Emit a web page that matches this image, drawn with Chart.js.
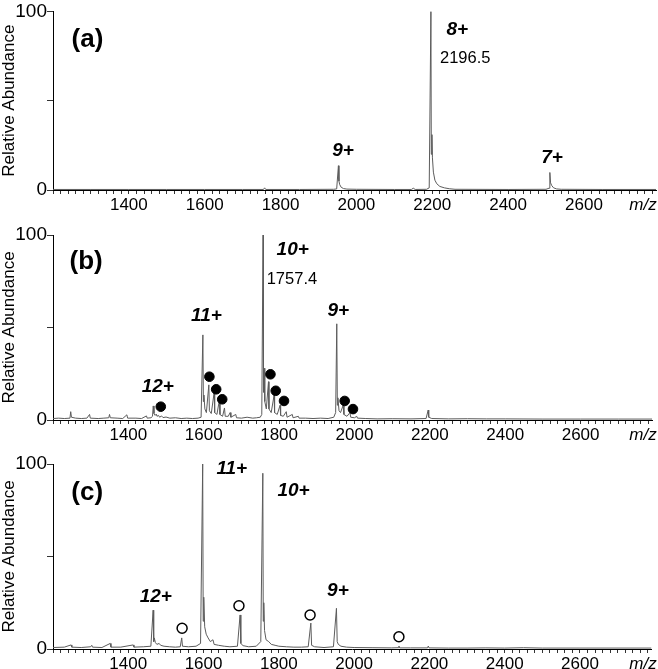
<!DOCTYPE html>
<html>
<head>
<meta charset="utf-8">
<script src="https://cdn.jsdelivr.net/npm/chart.js@4.4.1/dist/chart.umd.min.js"></script>
<style>
  html, body { margin: 0; padding: 0; background: #fff; }
  .panel { position: absolute; left: 0; width: 658px; }
</style>
</head>
<body>
<div class="panel" style="top:0px"><canvas id="chartA" width="658" height="223"></canvas></div>
<div class="panel" style="top:223px"><canvas id="chartB" width="658" height="223"></canvas></div>
<div class="panel" style="top:446px"><canvas id="chartC" width="658" height="223"></canvas></div>
<script>
'use strict';

// spectrum profiles (m/z, relative abundance %)
let mzA = [1200, 1300, 1400, 1500, 1600, 1700, 1755, 1758, 1761, 1850, 1940, 1948, 1952.6, 1954, 1956, 1960, 1966, 1975, 2000, 2100, 2145, 2150, 2155, 2185, 2192, 2196.5, 2197.5, 2199.2, 2200.5, 2203, 2207, 2212, 2220, 2232, 2245, 2260, 2400, 2500, 2508, 2510.1, 2512, 2515, 2520, 2528, 2540, 2650, 2790];
let abA = [0.3, 0.3, 0.3, 0.3, 0.3, 0.3, 0.3, 1.2, 0.3, 0.3, 0.4, 0.6, 13.6, 5, 3, 1.5, 0.8, 0.5, 0.4, 0.3, 0.3, 1, 0.3, 0.4, 1.2, 100, 20, 31, 18, 10, 5.5, 3.5, 2, 1.2, 0.7, 0.4, 0.3, 0.4, 1, 9.8, 4, 2.5, 1.2, 0.6, 0.4, 0.3, 0.3];

let mzB = [1200, 1215, 1230, 1245, 1247, 1249, 1260, 1275, 1290, 1297, 1299, 1320, 1335, 1348, 1350, 1352, 1370, 1385, 1396, 1398, 1420, 1435, 1448, 1450, 1460, 1464, 1466, 1468, 1471, 1474, 1476, 1480, 1483, 1488, 1492, 1500, 1510, 1525, 1540, 1555, 1570, 1585, 1593, 1597.7, 1599, 1600.5, 1603, 1607, 1613.5, 1615, 1620, 1627.7, 1629, 1635, 1641.7, 1643, 1650, 1655, 1657, 1665, 1670, 1672, 1685, 1687, 1700, 1715, 1730, 1740, 1750, 1754, 1757.4, 1758.6, 1760, 1762, 1766, 1771.8, 1773, 1779, 1786.8, 1788, 1795, 1802.6, 1804, 1811, 1819, 1821, 1835, 1837, 1851, 1853, 1870, 1890, 1910, 1930, 1945, 1950, 1953, 1954.5, 1956, 1959, 1963, 1970, 1972, 1980, 1988, 1990, 2000, 2006, 2008, 2030, 2060, 2100, 2150, 2190, 2195.6, 2197, 2205, 2250, 2300, 2350, 2400, 2500, 2600, 2700, 2790];
let abB = [0.8, 1, 0.8, 1, 4.5, 1.5, 1, 0.8, 1, 3, 1, 0.8, 1, 1.2, 3, 1.2, 1, 0.8, 2.8, 1, 1, 0.8, 2.2, 1, 1.2, 2, 7.6, 3.5, 2.5, 3.2, 2, 2.5, 1.5, 2.2, 1.3, 1.6, 1, 1.2, 0.8, 1, 0.8, 1, 1.5, 46, 10, 13.5, 6, 4, 19, 5, 3.5, 15, 4, 3, 11, 3, 2, 6.5, 2, 2, 4, 1.5, 3, 1.2, 1, 1.5, 1, 1.2, 1.5, 3, 100, 15, 28, 10, 6, 20.7, 6, 4, 13.5, 4, 3, 8, 2.5, 2, 4.5, 1.5, 3, 1.2, 2, 1, 1, 0.8, 1, 0.8, 1.5, 4, 52, 8, 12, 5, 4, 8, 3, 2, 4, 1.5, 1.2, 2, 1, 0.8, 0.6, 0.7, 0.6, 0.8, 5.4, 1.5, 0.8, 0.6, 0.7, 0.6, 0.6, 0.5, 0.5, 0.5, 0.5];

let mzC = [1200, 1230, 1248, 1250, 1275, 1300, 1303, 1305, 1330, 1352, 1354, 1380, 1413, 1415, 1440, 1460, 1466, 1467.5, 1469, 1472, 1476, 1482, 1486, 1495, 1510, 1525, 1538, 1542, 1544, 1560, 1580, 1592, 1597.7, 1599, 1600.5, 1603, 1607, 1612, 1618, 1625, 1628, 1640, 1655, 1670, 1690, 1697, 1699, 1705, 1720, 1740, 1752, 1757.4, 1758.6, 1760, 1762, 1766, 1773, 1780, 1790, 1800, 1820, 1840, 1860, 1878, 1885, 1887, 1895, 1920, 1945, 1953, 1955, 1958, 1965, 1980, 2000, 2050, 2100, 2117, 2119, 2121, 2150, 2195, 2197, 2199, 2250, 2300, 2350, 2400, 2450, 2500, 2600, 2790];
let abC = [0.8, 1, 2.2, 1, 0.8, 1.2, 2, 1, 0.8, 3, 1, 1, 2.2, 1, 1.2, 1.5, 21, 4, 6, 3.5, 2.5, 3, 2, 1.5, 1.2, 1, 1.2, 6, 1.5, 1.2, 1.5, 3, 100, 15, 28, 12, 8, 6, 4, 5, 2.5, 2, 1.5, 1.2, 1.5, 18.4, 3, 1.8, 1.2, 1.5, 4, 95, 15, 25, 10, 5, 4, 2.5, 2, 1.5, 1.2, 1, 1, 1.2, 14, 2, 1.2, 0.8, 1.2, 22, 4, 2.5, 1.5, 1, 0.8, 0.7, 0.6, 0.7, 1.6, 0.6, 0.6, 0.6, 1.6, 0.6, 0.5, 0.5, 0.6, 0.5, 0.7, 0.5, 0.5, 0.5];

// markers: filled dots in (b), open circles in (c)
let dotMzB = [1486, 1615, 1633, 1649, 1777, 1791, 1813, 1974, 1996];
let dotAbB = [7.2, 23.4, 16.6, 11.2, 24.7, 15.8, 10.3, 10.3, 5.9];
let ringMzC = [1543, 1694, 1883, 2119];
let ringAbC = [11.2, 23.4, 18.4, 6.6];

// tick labels
let xTickLabels = [1400, 1600, 1800, 2000, 2200, 2400, 2600];
let yTickLabels = [0, 100];

// text labels (text, m/z, abundance)
let labelsA = [['(a)', 1291, 84], ['8+', 2266, 89.7], ['2196.5', 2287, 73.4], ['9+', 1965, 21.7], ['7+', 2516, 17.9]];
let labelsB = [['(b)', 1288, 85.4], ['10+', 1836, 91.9], ['1757.4', 1834, 76.2], ['11+', 1607, 56.2], ['12+', 1478, 17.8], ['9+', 1957, 58.9]];
let labelsC = [['(c)', 1291, 84.3], ['11+', 1675, 97.3], ['10+', 1839, 85.4], ['12+', 1473, 28.1], ['9+', 1957, 31.4]];

const FONT = "'Liberation Sans', Arial, sans-serif";

function fontFor(text) {
  if (text[0] === '(') return 'bold 26px ' + FONT;
  if (text.indexOf('+') > -1) return 'italic bold 19px ' + FONT;
  return '16.5px ' + FONT;
}

const textPlugin = {
  id: 'textPlugin',
  afterDraw(chart) {
    const ctx = chart.ctx;
    const xs = chart.scales.x;
    const ys = chart.scales.y;
    ctx.save();
    ctx.fillStyle = '#000';
    ctx.textAlign = 'center';
    ctx.textBaseline = 'middle';
    chart.options.plugins.textPlugin.items.forEach(function (it) {
      ctx.font = fontFor(it[0]);
      ctx.fillText(it[0], xs.getPixelForValue(it[1]), ys.getPixelForValue(it[2]));
    });
    ctx.font = 'italic 17px ' + FONT;
    ctx.fillText('m/z', 643, chart.chartArea.bottom + 15);
    ctx.restore();
  }
};

function toPoints(xs, ys) {
  return xs.map(function (x, i) { return { x: x, y: ys[i] }; });
}

function makeChart(id, mz, ab, marks, labels, topPad, axisH) {
  let datasets = [{
    data: toPoints(mz, ab),
    showLine: true,
    borderColor: '#5c5c5c',
    borderWidth: 1,
    pointRadius: 0,
    order: 2
  }];
  if (marks) datasets.push(marks);

  new Chart(document.getElementById(id).getContext('2d'), {
    type: 'scatter',
    data: { datasets: datasets },
    options: {
      responsive: false,
      animation: false,
      devicePixelRatio: 1,
      layout: { padding: { top: topPad, right: 2, left: 0, bottom: 0 } },
      plugins: {
        legend: { display: false },
        tooltip: { enabled: false },
        textPlugin: { items: labels }
      },
      scales: {
        x: {
          type: 'linear',
          min: 1200,
          max: 2790,
          afterBuildTicks: function (scale) {
            let t = [];
            for (let v = 1200; v <= 2780; v += 20) t.push({ value: v });
            scale.ticks = t;
          },
          afterFit: function (scale) { scale.height = axisH; },
          grid: { drawOnChartArea: false, tickLength: 4, color: '#333', tickWidth: 1 },
          border: { color: '#000', width: 1 },
          ticks: {
            autoSkip: false,
            maxRotation: 0,
            padding: 1,
            color: '#000',
            font: { family: FONT, size: 17 },
            callback: function (v) { return xTickLabels.indexOf(v) > -1 ? String(v) : ''; }
          }
        },
        y: {
          min: 0,
          max: 100,
          afterBuildTicks: function (scale) {
            scale.ticks = [{ value: 0 }, { value: 50 }, { value: 100 }];
          },
          afterFit: function (scale) { scale.width = 53; },
          grid: { drawOnChartArea: false, tickLength: 6, color: '#333' },
          border: { color: '#000', width: 1 },
          title: {
            display: true,
            text: 'Relative Abundance',
            color: '#000',
            padding: 0,
            font: { family: FONT, size: 17, lineHeight: 1.1 }
          },
          ticks: {
            padding: 0,
            color: '#000',
            font: { family: FONT, size: 19 },
            callback: function (v) { return yTickLabels.indexOf(v) > -1 ? String(v) : ''; }
          }
        }
      }
    },
    plugins: [textPlugin]
  });
}

makeChart('chartA', mzA, abA, null, labelsA, 6, 33);
makeChart('chartB', mzB, abB, {
  data: toPoints(dotMzB, dotAbB),
  pointRadius: 4.8,
  pointBackgroundColor: '#000',
  pointBorderColor: '#000',
  order: 1
}, labelsB, 12, 26);
makeChart('chartC', mzC, abC, {
  data: toPoints(ringMzC, ringAbC),
  pointRadius: 5,
  pointBackgroundColor: '#fff',
  pointBorderColor: '#000',
  pointBorderWidth: 1.5,
  order: 1
}, labelsC, 18, 20);
</script>
</body>
</html>
